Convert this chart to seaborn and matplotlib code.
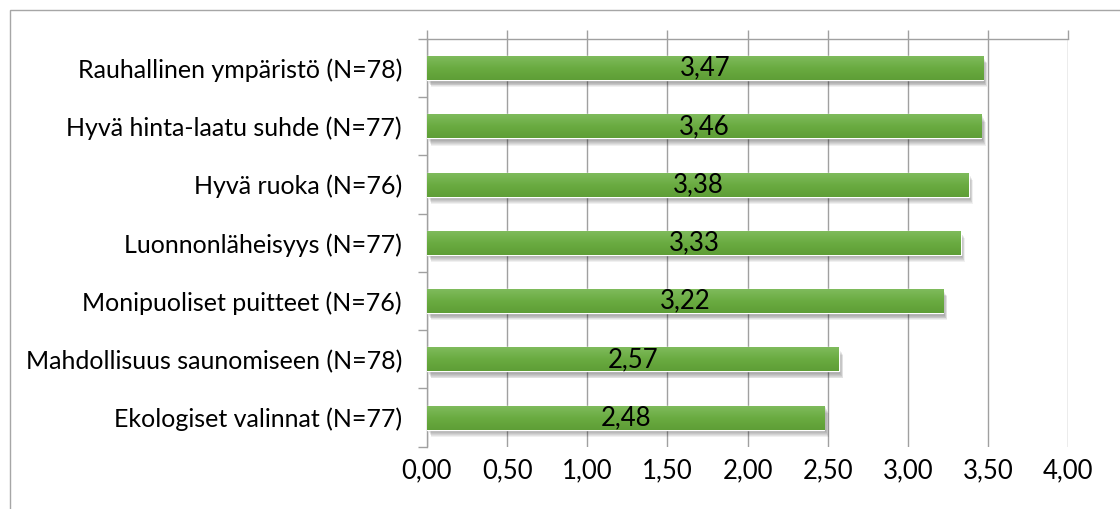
import numpy as np
import pandas as pd
import matplotlib
matplotlib.use("Agg")
import matplotlib.pyplot as plt
import seaborn as sns
from matplotlib.colors import LinearSegmentedColormap
from matplotlib.patches import Rectangle
from matplotlib.transforms import ScaledTranslation
from matplotlib.ticker import FuncFormatter

# Survey items and their mean scores
categories = [
    "Rauhallinen ympäristö (N=78)",
    "Hyvä hinta-laatu suhde (N=77)",
    "Hyvä ruoka (N=76)",
    "Luonnonläheisyys (N=77)",
    "Monipuoliset puitteet (N=76)",
    "Mahdollisuus saunomiseen (N=78)",
    "Ekologiset valinnat (N=77)",
]
values = [3.47, 3.46, 3.38, 3.33, 3.22, 2.57, 2.48]
x_ticks = [0.0, 0.5, 1.0, 1.5, 2.0, 2.5, 3.0, 3.5, 4.0]

df = pd.DataFrame({"item": categories, "score": values})

sns.set_theme(style="white")
plt.rcParams["font.family"] = ["Lato", "DejaVu Sans"]

GRID = "#a0a0a0"
LABEL_SIZE = 18
NUM_SIZE = 18.5
W, H, DPI = 1120, 509, 100
fig = plt.figure(figsize=(W / DPI, H / DPI), dpi=DPI)
ax = fig.add_axes([427 / W, 1 - 446.7 / H, (1068 - 427) / W, (446.7 - 39) / H])

sns.barplot(data=df, x="score", y="item", orient="h", order=categories,
            color="#6aab41", width=0.41, saturation=1, ax=ax, zorder=3)

ax.set_xlim(0, 4.0)
ax.set_ylim(len(categories) - 0.5, -0.5)

# gradient fill and soft drop shadow for every bar
cmap = LinearSegmentedColormap.from_list("bar", ["#7fbb5c", "#6aab41", "#5e9e36"])
grad = np.linspace(0, 1, 64).reshape(-1, 1)
for p in ax.patches:
    x0, y0, w, h = p.get_x(), p.get_y(), p.get_width(), p.get_height()
    for k in range(1, 9):
        off = ScaledTranslation(k * 0.55 / DPI, -k * 0.9 / DPI, fig.dpi_scale_trans)
        ax.add_patch(Rectangle((x0, y0), w, h, transform=ax.transData + off,
                               facecolor="#000000", alpha=0.06, lw=0, zorder=2))
    ax.imshow(grad, extent=[x0, x0 + w, y0 + h, y0], aspect="auto",
              cmap=cmap, zorder=4, interpolation="bilinear")
    ax.text(x0 + w / 2, y0 + h / 2, f"{w:.2f}".replace(".", ","),
            ha="center", va="center", fontsize=NUM_SIZE, color="black", zorder=5)

ax.set_xlim(0, 4.0)
ax.set_ylim(len(categories) - 0.5, -0.5)

ax.set_xticks(x_ticks)
ax.xaxis.set_major_formatter(FuncFormatter(lambda v, _: f"{v:.2f}".replace(".", ",")))
ax.tick_params(axis="x", top=True, bottom=False, labeltop=False, labelbottom=True,
               direction="out", length=6.5, width=1.0, color=GRID, pad=2,
               labelsize=NUM_SIZE, labelcolor="black")

ax.set_yticks(range(len(categories)))
ax.set_yticklabels(categories)
ax.set_yticks(np.arange(-0.5, len(categories), 1), minor=True)
ax.tick_params(axis="y", which="major", length=0, pad=18, labelsize=LABEL_SIZE,
               labelcolor="black")
ax.tick_params(axis="y", which="minor", left=True, length=6.5, width=1.0,
               color=GRID, direction="out")

ax.grid(axis="x", color=GRID, linewidth=1.0, zorder=1)
ax.grid(axis="y", visible=False)
ax.set_axisbelow(True)

for side in ["right", "bottom"]:
    ax.spines[side].set_visible(False)
for side in ["top", "left"]:
    ax.spines[side].set_color(GRID)
    ax.spines[side].set_linewidth(1.0)

ax.set_xlabel("")
ax.set_ylabel("")

# chart area frame
fig.patches.append(Rectangle((10 / W, -0.2), 1.2, 1.2 - 10 / H, transform=fig.transFigure,
                             fill=False, edgecolor="#a6a6a6", linewidth=1.0))

fig.savefig("out.png", dpi=DPI)
